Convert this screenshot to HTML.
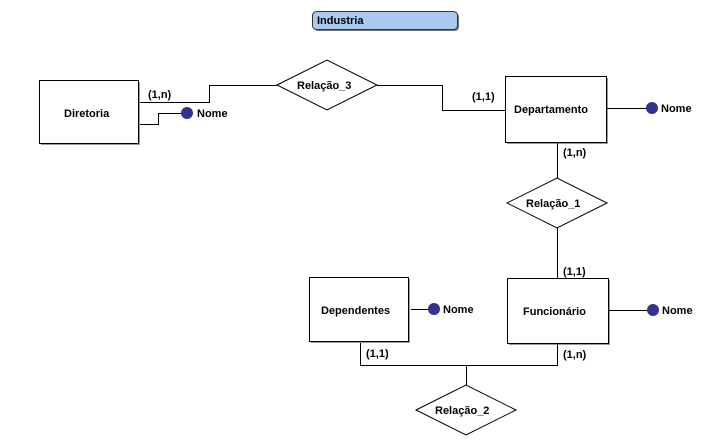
<!DOCTYPE html>
<html><head><meta charset="utf-8"><style>
body{margin:0;background:#fff;}
svg text{font-family:"Liberation Sans",sans-serif;font-weight:bold;font-size:11px;fill:#000;}
</style></head><body>
<svg width="705" height="441" xmlns="http://www.w3.org/2000/svg">
<rect x="314" y="13" width="145" height="18" rx="4" fill="#777"/>
<rect x="312.5" y="11.5" width="145" height="18" rx="4" fill="#a9c9ee" stroke="#333" stroke-width="1"/>
<text x="317" y="24">Industria</text>
<g fill="#fff" stroke="#000" stroke-width="1">
<rect x="41" y="82" width="99" height="63" fill="#999" stroke="none"/>
<rect x="39.5" y="80.5" width="99" height="63"/>
<rect x="507" y="78" width="101" height="66" fill="#999" stroke="none"/>
<rect x="505.5" y="76.5" width="101" height="66"/>
<rect x="509" y="280" width="101" height="65" fill="#999" stroke="none"/>
<rect x="507.5" y="278.5" width="101" height="65"/>
<rect x="311" y="279" width="99" height="64" fill="#999" stroke="none"/>
<rect x="309.5" y="277.5" width="99" height="64"/>
<polygon points="277,85 327,60 377,85 327,110"/>
<polygon points="507,203 557,178 607,203 557,228"/>
<polygon points="416,410 466,385 516,410 466,435"/>
</g>
<g fill="none" stroke="#000" stroke-width="1">
<polyline points="140,102.5 209.5,102.5 209.5,85.5 277,85.5"/>
<polyline points="140,124.5 158.5,124.5 158.5,113.5 182,113.5"/>
<polyline points="377,85.5 442.5,85.5 442.5,110.5 505,110.5"/>
<line x1="607" y1="108.5" x2="647" y2="108.5"/>
<line x1="557.5" y1="143" x2="557.5" y2="178"/>
<line x1="557.5" y1="228" x2="557.5" y2="278"/>
<line x1="609" y1="310.5" x2="648" y2="310.5"/>
<line x1="411" y1="309.5" x2="428" y2="309.5"/>
<polyline points="360.5,343 360.5,365.5 557.5,365.5 557.5,344"/>
<line x1="466.5" y1="365" x2="466.5" y2="385"/>
</g>
<g fill="#33338f">
<ellipse cx="187" cy="113" rx="6" ry="6"/>
<ellipse cx="652" cy="108" rx="6" ry="6"/>
<ellipse cx="653" cy="310" rx="6" ry="6"/>
<ellipse cx="434" cy="309" rx="6" ry="6"/>
</g>
<text x="64" y="117">Diretoria</text>
<text x="197" y="117">Nome</text>
<text x="148" y="98">(1,n)</text>
<text x="297" y="89">Relação_3</text>
<text x="472" y="100">(1,1)</text>
<text x="514" y="113">Departamento</text>
<text x="661" y="112">Nome</text>
<text x="563" y="156">(1,n)</text>
<text x="526" y="207">Relação_1</text>
<text x="563" y="275">(1,1)</text>
<text x="523" y="315">Funcionário</text>
<text x="662" y="314">Nome</text>
<text x="321" y="314">Dependentes</text>
<text x="443" y="313">Nome</text>
<text x="366" y="357">(1,1)</text>
<text x="563" y="358">(1,n)</text>
<text x="435" y="414">Relação_2</text>
</svg>
</body></html>
